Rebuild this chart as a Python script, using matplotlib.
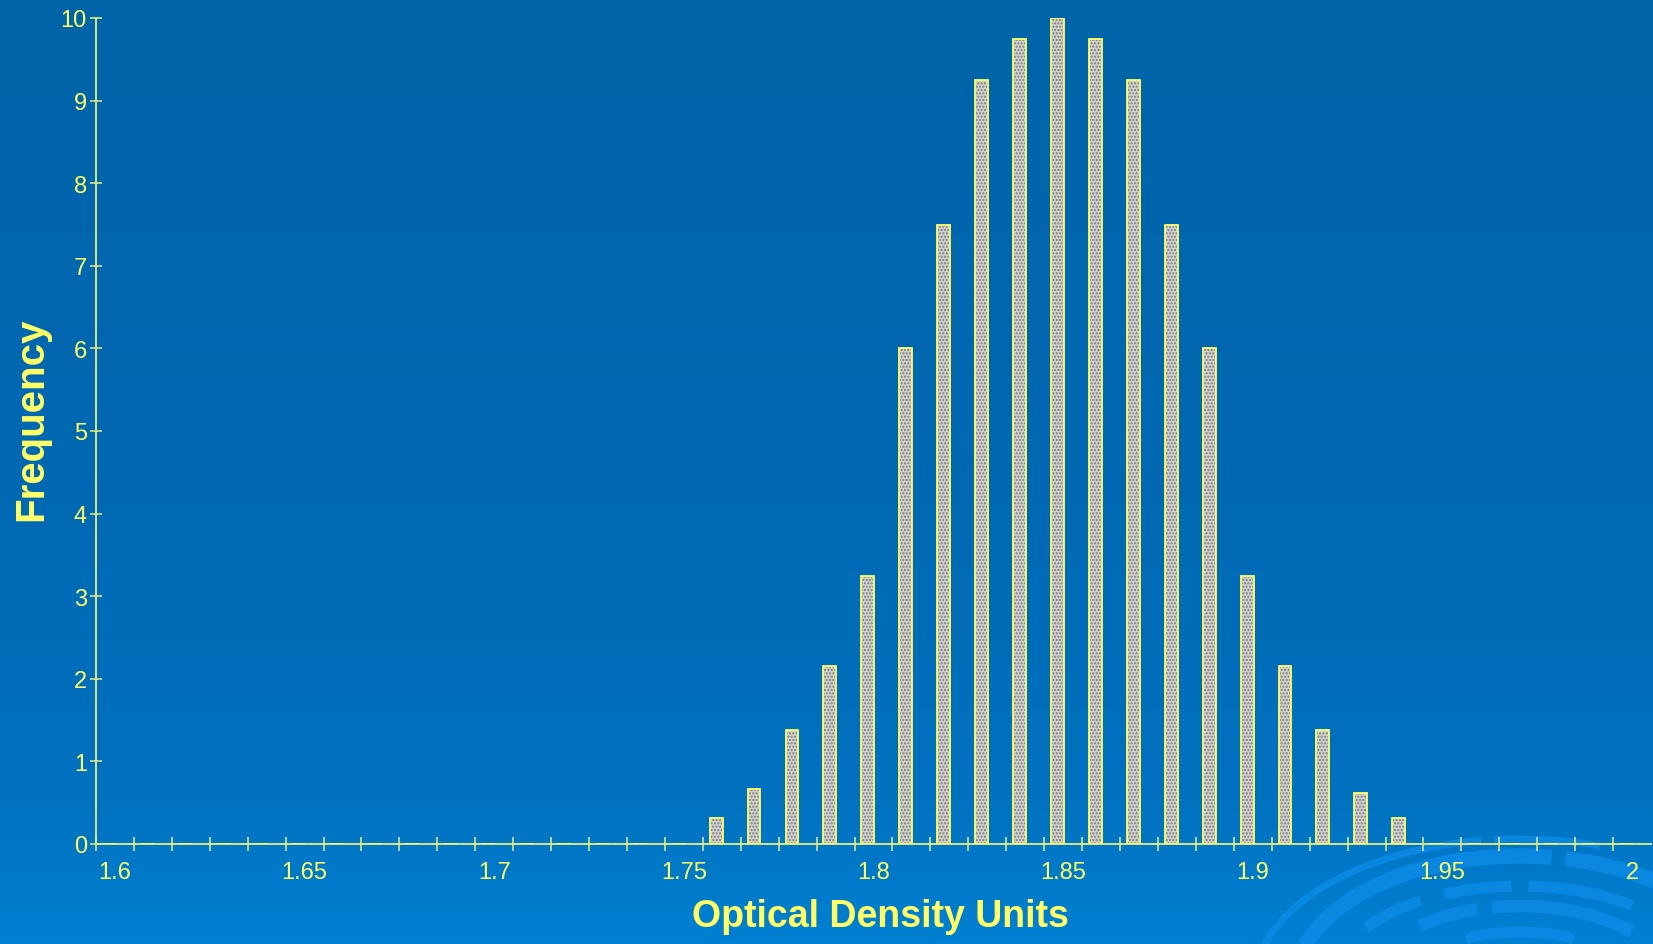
import numpy as np
import matplotlib
matplotlib.use('Agg')
import matplotlib.pyplot as plt
from matplotlib.patches import Arc
from matplotlib.colors import LinearSegmentedColormap

# optical density categories (0.01 wide bins)
od_bins = ['1.6', '1.61', '1.62', '1.63', '1.64', '1.65', '1.66', '1.67', '1.68', '1.69',
           '1.7', '1.71', '1.72', '1.73', '1.74', '1.75', '1.76', '1.77', '1.78', '1.79',
           '1.8', '1.81', '1.82', '1.83', '1.84', '1.85', '1.86', '1.87', '1.88', '1.89',
           '1.9', '1.91', '1.92', '1.93', '1.94', '1.95', '1.96', '1.97', '1.98', '1.99', '2']
frequency = [0, 0, 0, 0, 0, 0, 0, 0, 0, 0,
             0, 0, 0, 0, 0, 0, 0.31, 0.66, 1.38, 2.15,
             3.25, 6.0, 7.5, 9.25, 9.75, 10.0, 9.75, 9.25, 7.5, 6.0,
             3.25, 2.15, 1.38, 0.62, 0.31, 0, 0, 0, 0, 0, 0]
shown_labels = ['1.6', '1.65', '1.7', '1.75', '1.8', '1.85', '1.9', '1.95', '2']

yellow = '#ffff66'
axis_col = '#e8ee80'
plt.rcParams['font.family'] = ['Liberation Sans', 'DejaVu Sans']

W, H = 1653, 945
fig = plt.figure(figsize=(W / 100, H / 100), dpi=100)

# background gradient + swirl decoration (pixel coords, y from bottom)
bg = fig.add_axes([0, 0, 1, 1])
grad = np.linspace(0, 1, 256).reshape(-1, 1)
cm = LinearSegmentedColormap.from_list('bg', [(0, '#0080d2'), (0.15, '#0072c0'),
                                              (0.5, '#0068b2'), (1, '#0064a8')])
bg.imshow(grad, aspect='auto', cmap=cm, extent=[0, W, 0, H], origin='lower')
bg.set_xlim(0, W)
bg.set_ylim(0, H)
ring_col = '#0c8ce8'
rings = [(265, 145, 60, 100, 5), (265, 145, 105, 174, 5),
         (225, 128, 20, 70, 11), (225, 128, 76, 170, 11),
         (188, 98, 35, 85, 8), (188, 98, 95, 130, 8), (188, 98, 140, 160, 8),
         (150, 78, 25, 110, 9), (150, 78, 120, 150, 9),
         (110, 52, 40, 140, 8)]
for rx, ry, t1, t2, lw in rings:
    bg.add_patch(Arc((1520, -40), 2 * rx, 2 * ry, theta1=t1, theta2=t2,
                     color=ring_col, lw=lw, alpha=0.8))
bg.add_patch(Arc((1520, -40), 2 * 330, 2 * 270, theta1=15, theta2=55, color=ring_col, lw=4, alpha=0.6))
bg.axis('off')

ax = fig.add_axes([96 / W, 1 - 845 / H, (1651 - 96) / W, (845 - 19) / H])
ax.patch.set_alpha(0)

x = np.arange(len(od_bins)) - 0.15
ax.bar(x, frequency, width=0.34, color='#d0d0d0', edgecolor='#7a7a7a',
       hatch='.....', linewidth=0, zorder=2)
ax.bar(x, frequency, width=0.34, fill=False, edgecolor=yellow, linewidth=1.3, zorder=3)

ax.set_xlim(-0.5, len(od_bins) - 0.5)
ax.set_ylim(0, 10)

# labels at centre of categories, tick marks at boundaries
lab_pos = [od_bins.index(s) for s in shown_labels]
ax.set_xticks(lab_pos)
ax.set_xticklabels(shown_labels)
ax.set_xticks(np.arange(-0.5, len(od_bins) - 1, 1), minor=True)
ax.tick_params(axis='x', which='major', length=0, pad=12, labelsize=17, labelcolor=yellow)
ax.tick_params(axis='x', which='minor', direction='inout', length=10, width=1.1, color=axis_col)
ax.set_yticks(range(0, 11))
ax.tick_params(axis='y', direction='inout', length=9, width=1.1, color=axis_col,
               pad=2, labelsize=17, labelcolor=yellow)

for s in ['top', 'right']:
    ax.spines[s].set_visible(False)
for s in ['left', 'bottom']:
    ax.spines[s].set_color(axis_col)
    ax.spines[s].set_linewidth(1.3)

ax.set_xlabel('Optical Density Units', fontsize=27, fontweight='bold', color=yellow)
ax.xaxis.set_label_coords((880 - 96) / (1651 - 96), -(917 - 845) / (845 - 19), transform=ax.transAxes)
ax.xaxis.label.set_va('center')
ax.set_ylabel('Frequency', fontsize=29, fontweight='bold', color=yellow)
ax.yaxis.set_label_coords(-(96 - 31) / (1651 - 96), (845 - 419) / (845 - 19), transform=ax.transAxes)
ax.yaxis.label.set_va('center')

fig.savefig('out.png', dpi=100)
